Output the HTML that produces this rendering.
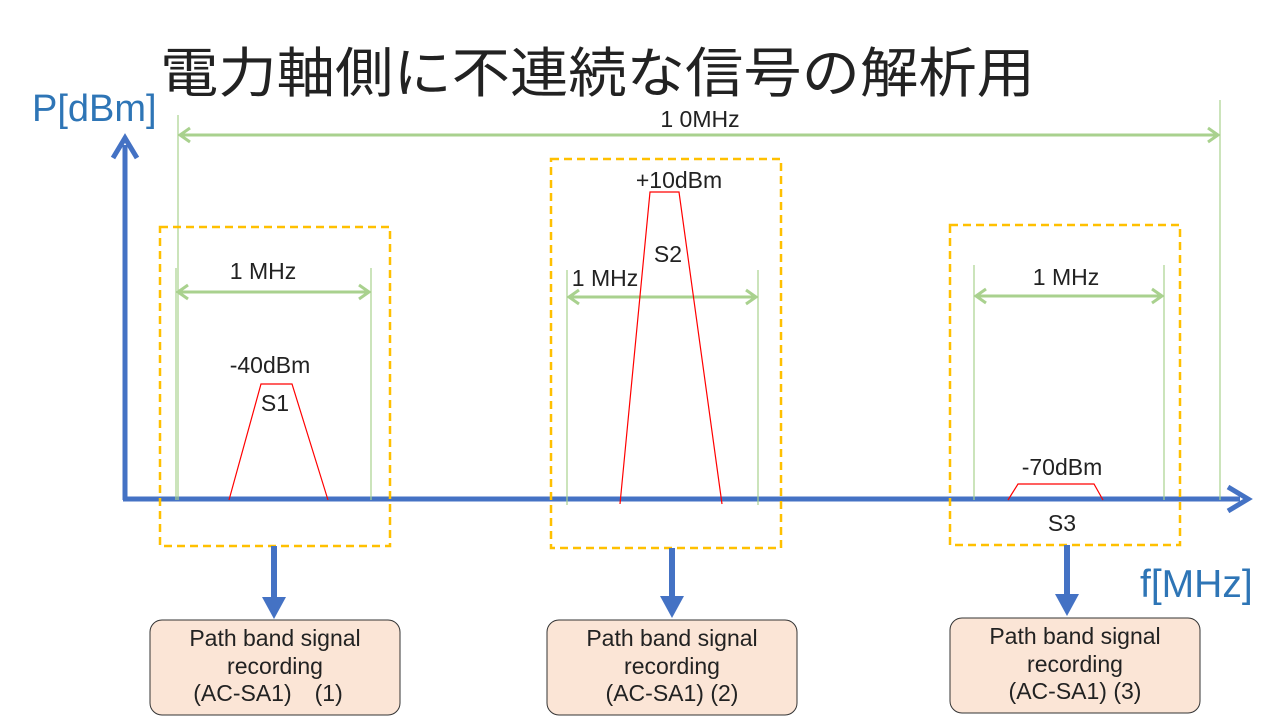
<!DOCTYPE html>
<html><head><meta charset="utf-8"><style>body{margin:0;background:#fff}svg{display:block}</style></head><body>
<svg width="1280" height="720" viewBox="0 0 1280 720" xmlns="http://www.w3.org/2000/svg" font-family="Liberation Sans, Noto Sans CJK JP, sans-serif">
<text x="160" y="92" font-size="54" fill="#222" textLength="875" lengthAdjust="spacingAndGlyphs">電力軸側に不連続な信号の解析用</text>
<text x="32" y="121" font-size="38" fill="#2E75B6">P[dBm]</text>
<text x="1140" y="597" font-size="39" fill="#2E75B6">f[MHz]</text>
<g stroke="#4472C4" stroke-width="5" fill="none">
<line x1="125" y1="500" x2="125" y2="145"/>
<polyline points="113,158 125,138 137,158"/>
<line x1="123" y1="499" x2="1240" y2="499"/>
<polyline points="1228,487 1248,499 1228,511"/>
</g>
<g stroke="#A9D18E" stroke-width="1.2">
<line x1="178" y1="115" x2="178" y2="500"/><line x1="1220" y1="100" x2="1220" y2="500"/>
<line x1="176" y1="268" x2="176" y2="500"/><line x1="371" y1="268" x2="371" y2="500"/>
<line x1="567" y1="270" x2="567" y2="505"/><line x1="758" y1="270" x2="758" y2="505"/>
<line x1="974" y1="265" x2="974" y2="500"/><line x1="1164" y1="265" x2="1164" y2="500"/>
</g>
<g stroke="#A9D18E" stroke-width="3" fill="none">
<line x1="180" y1="135" x2="1218" y2="135"/><polyline points="190,128 180,135 190,142"/><polyline points="1208,128 1218,135 1208,142"/>
<line x1="178" y1="292" x2="369" y2="292"/><polyline points="188,285 178,292 188,299"/><polyline points="359,285 369,292 359,299"/>
<line x1="569" y1="297" x2="756" y2="297"/><polyline points="579,290 569,297 579,304"/><polyline points="746,290 756,297 746,304"/>
<line x1="976" y1="296" x2="1162" y2="296"/><polyline points="986,289 976,296 986,303"/><polyline points="1152,289 1162,296 1152,303"/>
</g>
<g font-size="23" fill="#222" text-anchor="middle">
<text x="700" y="127">1 0MHz</text>
<text x="263" y="279">1 MHz</text>
<text x="605" y="286">1 MHz</text>
<text x="1066" y="285">1 MHz</text>
<text x="270" y="373">-40dBm</text>
<text x="275" y="411">S1</text>
<text x="679" y="188">+10dBm</text>
<text x="668" y="262">S2</text>
<text x="1062" y="475">-70dBm</text>
<text x="1062" y="531">S3</text>
</g>
<g stroke="#FF0000" stroke-width="1.2" fill="none">
<polyline points="229,500 261,384 292,384 328,500"/>
<polyline points="620,504 650,192 679,192 722,504"/>
<polyline points="1008,500 1018,484 1094,484 1103,500"/>
</g>
<g stroke="#FFC000" stroke-width="2.5" fill="none" stroke-dasharray="8,5">
<rect x="160" y="227" width="230" height="319"/>
<rect x="551" y="159" width="230" height="389"/>
<rect x="950" y="225" width="230" height="320"/>
</g>
<g stroke="#4472C4" stroke-width="6">
<line x1="274" y1="546" x2="274" y2="600"/><line x1="672" y1="548" x2="672" y2="598"/><line x1="1067" y1="545" x2="1067" y2="596"/>
</g>
<g fill="#4472C4">
<polygon points="262,597 286,597 274,619"/><polygon points="660,596 684,596 672,618"/><polygon points="1055,594 1079,594 1067,616"/>
</g>
<g fill="#FBE5D6" stroke="#333" stroke-width="1">
<rect x="150" y="620" width="250" height="95" rx="12"/>
<rect x="547" y="620" width="250" height="95" rx="12"/>
<rect x="950" y="618" width="250" height="95" rx="12"/>
</g>
<g font-size="23" fill="#222" text-anchor="middle">
<text x="275" y="646">Path band signal</text><text x="275" y="674">recording</text><text x="268" y="701">(AC-SA1)　(1)</text>
<text x="672" y="646">Path band signal</text><text x="672" y="674">recording</text><text x="672" y="701">(AC-SA1) (2)</text>
<text x="1075" y="644">Path band signal</text><text x="1075" y="672">recording</text><text x="1075" y="699">(AC-SA1) (3)</text>
</g>
</svg>
</body></html>
